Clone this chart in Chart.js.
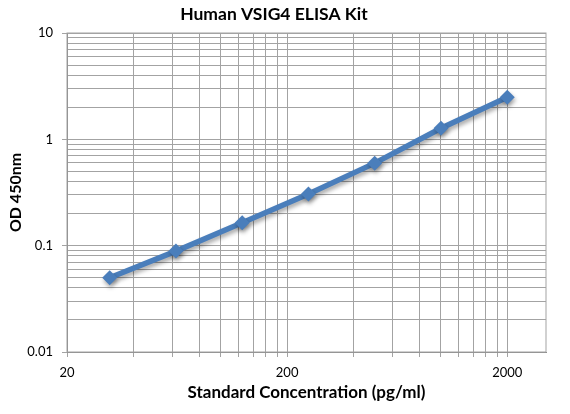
<!DOCTYPE html>
<html>
<head>
<meta charset="utf-8">
<script src="https://cdn.jsdelivr.net/npm/chart.js@4/dist/chart.umd.min.js"></script>
<style>
  html, body { margin: 0; padding: 0; background: #fff; }
  #wrap { position: relative; width: 570px; height: 414px; }
</style>
</head>
<body>
<div id="wrap"><canvas id="elisa"></canvas></div>
<script>
// standard curve
const concentrations = [31.25, 62.5, 125, 250, 500, 1000, 2000];
const odValues = [0.0499, 0.0889, 0.164, 0.306, 0.597, 1.27, 2.49];

// axis ticks / gridlines (Excel style log axes)
const xMajorTicks = [20, 200, 2000];
const xGridTicks = [20, 40, 60, 80, 100, 120, 140, 160, 180,
                    200, 400, 600, 800, 1000, 1200, 1400, 1600, 1800, 2000];
const yMajorTicks = [0.01, 0.1, 1, 10];
const yGridTicks = [0.01, 0.02, 0.03, 0.04, 0.05, 0.06, 0.07, 0.08, 0.09,
                    0.1, 0.2, 0.3, 0.4, 0.5, 0.6, 0.7, 0.8, 0.9,
                    1, 2, 3, 4, 5, 6, 7, 8, 9, 10];

const FONT = 'Lato, "Open Sans", sans-serif';
const BLUE = '#4a7ebb';
const GRID = '#a3a3a3';

// soft shadow under the line, like the Excel default
const shadowPlugin = {
    id: 'lineShadow',
    beforeDatasetsDraw(chart) {
        const ctx = chart.ctx;
        ctx.save();
        ctx.shadowColor = 'rgba(0,0,0,0.35)';
        ctx.shadowBlur = 4;
        ctx.shadowOffsetX = 1;
        ctx.shadowOffsetY = 3;
    },
    afterDatasetsDraw(chart) {
        chart.ctx.restore();
    }
};

// plot area frame
const framePlugin = {
    id: 'plotFrame',
    beforeDatasetsDraw(chart) {
        const a = chart.chartArea;
        const ctx = chart.ctx;
        ctx.save();
        ctx.strokeStyle = GRID;
        ctx.lineWidth = 1;
        ctx.strokeRect(a.left, a.top, a.right - a.left, a.bottom - a.top);
        ctx.restore();
    }
};

new Chart(document.getElementById('elisa'), {
    type: 'line',
    data: {
        datasets: [{
            data: concentrations.map((c, i) => ({ x: c, y: odValues[i] })),
            borderColor: BLUE,
            backgroundColor: BLUE,
            borderWidth: 5.5,
            pointStyle: 'rectRot',
            pointRadius: 7.5,
            pointBorderWidth: 0,
            pointBackgroundColor: BLUE,
            tension: 0,
            fill: false
        }]
    },
    options: {
        responsive: true,
        maintainAspectRatio: false,
        animation: false,
        layout: { padding: { left: 2, right: 24, top: 0, bottom: 7 } },
        plugins: {
            legend: { display: false },
            tooltip: { enabled: false },
            title: {
                display: true,
                text: 'Human VSIG4 ELISA Kit',
                color: '#000',
                font: { family: FONT, size: 17.5, weight: 'bold' },
                padding: { top: 4, bottom: 8 }
            }
        },
        scales: {
            x: {
                type: 'logarithmic',
                min: 20,
                max: 3000,
                afterBuildTicks: scale => {
                    scale.ticks = xGridTicks.map(v => ({ value: v }));
                },
                afterFit: scale => { scale.height = 55; },
                ticks: {
                    autoSkip: false,
                    maxRotation: 0,
                    padding: 8,
                    color: '#000',
                    font: { family: FONT, size: 13 },
                    callback: v => xMajorTicks.includes(v) ? String(v) : ''
                },
                grid: { color: GRID, tickColor: GRID, tickLength: 5 },
                border: { color: '#868686' },
                title: {
                    display: true,
                    text: 'Standard Concentration (pg/ml)',
                    color: '#000',
                    font: { family: FONT, size: 17, weight: 'bold' }
                }
            },
            y: {
                type: 'logarithmic',
                min: 0.01,
                max: 10,
                afterBuildTicks: scale => {
                    scale.ticks = yGridTicks.map(v => ({ value: v }));
                },
                afterFit: scale => { scale.width = 65; },
                ticks: {
                    autoSkip: false,
                    padding: 9,
                    color: '#000',
                    font: { family: FONT, size: 13 },
                    callback: v => yMajorTicks.includes(v) ? String(v) : ''
                },
                grid: {
                    color: GRID,
                    tickLength: 5,
                    tickColor: c => (c.tick && yMajorTicks.includes(c.tick.value)) ? GRID : 'rgba(0,0,0,0)'
                },
                border: { color: '#868686' },
                title: {
                    display: true,
                    text: 'OD 450nm',
                    color: '#000',
                    font: { family: FONT, size: 16, weight: 'bold' }
                }
            }
        }
    },
    plugins: [framePlugin, shadowPlugin]
});
</script>
</body>
</html>
